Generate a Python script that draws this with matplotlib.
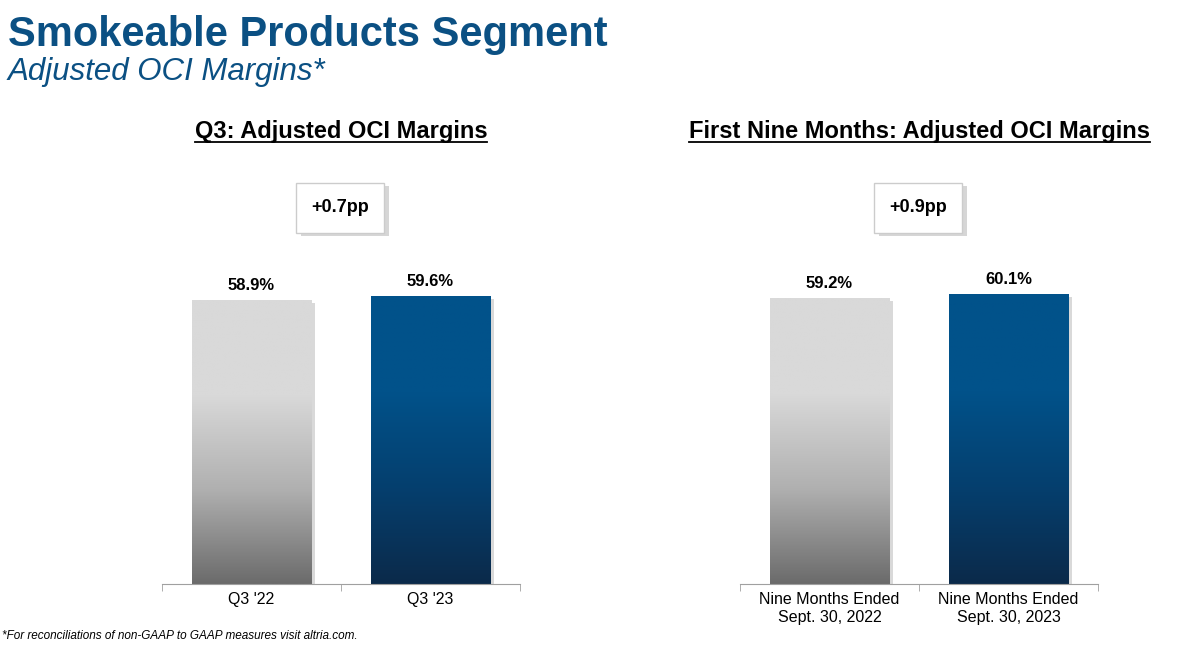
import numpy as np
import matplotlib.pyplot as plt
from matplotlib.colors import LinearSegmentedColormap
from matplotlib.patches import FancyBboxPatch

plt.rcParams['font.family'] = ['Liberation Sans', 'DejaVu Sans']

titles = ["Q3: Adjusted OCI Margins", "First Nine Months: Adjusted OCI Margins"]
cats = [["Q3 '22", "Q3 '23"],
        ["Nine Months Ended\nSept. 30, 2022", "Nine Months Ended\nSept. 30, 2023"]]
vals = [[58.9, 59.6], [59.2, 60.1]]
deltas = ["+0.7pp", "+0.9pp"]

gray = LinearSegmentedColormap.from_list("g", ["#6b6b6b", "#b0b0b0", "#d9d9d9", "#d9d9d9"])
blue = LinearSegmentedColormap.from_list("b", ["#0b2a4a", "#053f6e", "#01528a", "#01528a"])
cmaps = [gray, blue]

W, H = 1183, 646
fig = plt.figure(figsize=(W / 100, H / 100), dpi=100)

fig.text(8 / W, 1 - 35 / H, "Smokeable Products Segment", fontsize=30, fontweight='bold',
         color='#0b5083', va='center')
fig.text(8 / W, 1 - 72 / H, "Adjusted OCI Margins*", fontsize=22.5, fontstyle='italic',
         color='#0b5083', va='center')
fig.text(2 / W, 1 - 636 / H, "*For reconciliations of non-GAAP to GAAP measures visit altria.com.",
         fontsize=8.5, fontstyle='italic', va='center')

lefts = [162, 740]
grad = np.linspace(0, 1, 256).reshape(-1, 1)
for k in range(2):
    ax = fig.add_axes([lefts[k] / W, 1 - 584 / H, 358 / W, 434 / H])
    for s in ['top', 'right', 'left']:
        ax.spines[s].set_visible(False)
    ax.spines['bottom'].set_color('#a0a0a0')
    ax.set_yticks([])
    ax.set_xticks([0, 1, 2], minor=True)
    ax.set_xticks([0.5, 1.5])
    ax.set_xticklabels(cats[k], fontsize=11.5)
    ax.tick_params(axis='x', which='major', length=0, pad=6)
    ax.tick_params(axis='x', which='minor', length=5, color='#a0a0a0')
    for i, v in enumerate(vals[k]):
        x0, x1 = i + 0.165, i + 0.835
        # shadow
        ax.fill_between([x1, x1 + 0.02], 0, v - 0.5, color='#000000', alpha=0.15, lw=0)
        ax.imshow(grad, cmap=cmaps[i], aspect='auto', extent=[x0, x1, 0, v],
                  origin='lower', zorder=2)
        ax.text(i + 0.5, v + 1.5, f"{v}%", ha='center', va='bottom', fontsize=12,
                fontweight='bold')
    ax.set_xlim(0, 2)
    ax.set_ylim(0, 434 / 4.82)
    cx = (lefts[k] + 179) / W
    t = fig.text(cx, 1 - 138 / H, titles[k], fontsize=17, fontweight='bold',
                 ha='center', va='baseline')
    # underline
    fig.canvas.draw()
    bb = t.get_window_extent()
    fig.add_artist(plt.Line2D([bb.x0 / W, bb.x1 / W], [1 - 142 / H] * 2, color='black', lw=1.3))
    # delta box
    fig.patches.append(FancyBboxPatch(((cx * W - 43 + 3) / W, 1 - 236 / H), 88 / W, 50 / H,
                                      boxstyle='square,pad=0', fc='#bbbbbb', ec='none',
                                      transform=fig.transFigure, alpha=0.6))
    fig.patches.append(FancyBboxPatch(((cx * W - 45) / W, 1 - 233 / H), 88 / W, 50 / H,
                                      boxstyle='square,pad=0', fc='white', ec='#cccccc',
                                      lw=1, transform=fig.transFigure))
    fig.text(cx - 1 / W, 1 - 208 / H, deltas[k], ha='center', va='center', fontsize=13,
             fontweight='bold')

fig.savefig("out.png", dpi=100)
